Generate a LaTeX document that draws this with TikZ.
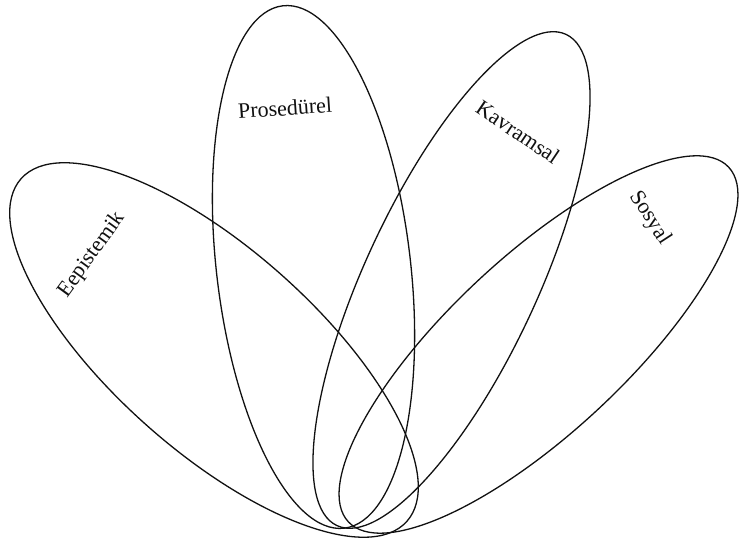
\documentclass[tikz,border=0pt]{standalone}
\usepackage{fontspec}
\setmainfont{Liberation Serif}
\usepackage{tikz}
\definecolor{ink}{HTML}{111111}
\tikzset{
  lobe/.style={draw=ink, line width=1.3pt},
  tag/.style={text=ink, font=\fontsize{22}{22}\selectfont, inner sep=0pt}
}

\begin{document}
\begin{tikzpicture}[x=1pt,y=1pt]
\useasboundingbox (0,0) rectangle (739,545);

% =========================
% LOBES (all meet near the bottom)
% =========================
\foreach \cx/\cy/\ang/\rx/\ry in {
  214/195/48.4/101/258,   % epistemik
  313.5/278/6.7/97/263,   % prosedurel
  451.5/265/-25/86/271,   % kavramsal
  538.5/200.5/-47/88/260  % sosyal
}{
  \draw[lobe, rotate around={\ang:(\cx,\cy)}] (\cx,\cy) ellipse (\rx pt and \ry pt);
}

% =========================
% LABELS
% =========================
\node[tag, rotate=54]  (epi) at (92,290)  {Eepistemik};
\node[tag, rotate=4]   (pro) at (285,437) {Prosedürel};
\node[tag, rotate=-34] (kav) at (518,413) {Kavramsal};
\node[tag, rotate=-57] (sos) at (650,327) {Sosyal};

\end{tikzpicture}
\end{document}
